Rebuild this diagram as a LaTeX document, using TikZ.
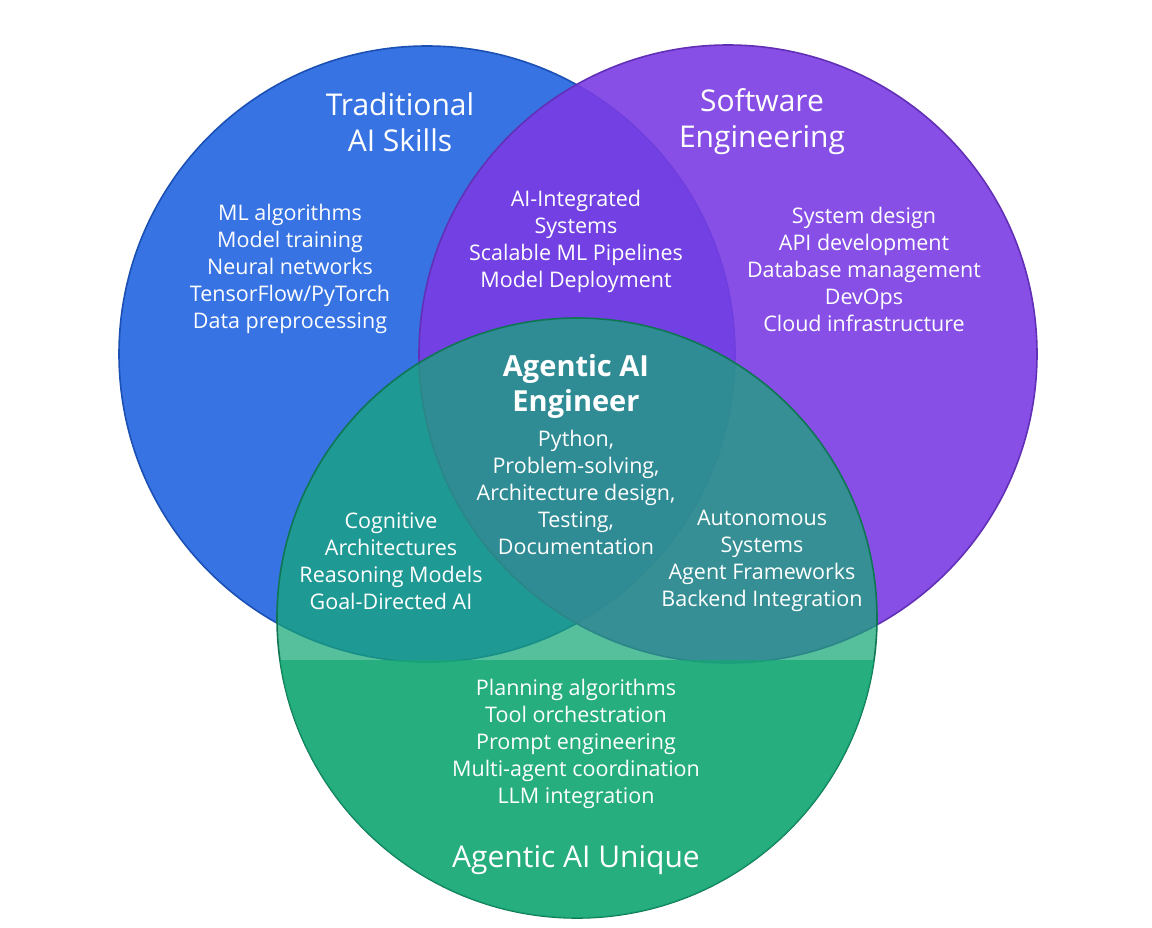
\documentclass[tikz,border=0pt]{standalone}
\usepackage{fontspec}
\setmainfont{Open Sans}
\begin{document}
\begin{tikzpicture}[x=1pt,y=-1pt,
  circ/.style={fill opacity=0.9,draw opacity=1,line width=1.6pt},
  item/.style={text=white,align=center,font=\fontsize{21.5}{27}\selectfont},
  ttl/.style={text=white,align=center,font=\fontsize{30}{36}\selectfont},
  ctr/.style={text=white,align=center,font=\bfseries\fontsize{29}{35}\selectfont}]
\definecolor{cblue}{RGB}{34,100,225}
\definecolor{cpurple}{RGB}{122,60,228}
\definecolor{cgreen}{RGB}{22,168,118}
\useasboundingbox (0,0) rectangle (1152,928);
\fill[white] (0,0) rectangle (1152,928);
\fill[cblue,circ,draw=cblue!80!black] (427,354) circle (308) coordinate (blue);
\fill[cpurple,circ,draw=cpurple!80!black] (728,354) circle (309) coordinate (purple);
\fill[cgreen,fill opacity=0.72,draw opacity=1,line width=1.6pt,draw=cgreen!70!black] (577,618) circle (300) coordinate (green);
\begin{scope}
\clip (577,618) circle (300);
\fill[cgreen,opacity=0.75] (0,660) rectangle (1152,928);
\end{scope}
\begin{scope}
\clip (427,354) circle (308);
\clip (577,618) circle (300);
\fill[black,opacity=0.0] (0,0) rectangle (1152,928);
\end{scope}
\node[ttl] (t1) at (400,122) {Traditional\\AI Skills};
\node[ttl] (t2) at (762,122) {Software\\Engineering};
\node[ttl] (t3) at (576,860) {Agentic AI Unique};
\node[item] (l1) at (290,269) {ML algorithms\\Model training\\Neural networks\\TensorFlow/PyTorch\\Data preprocessing};
\node[item] (l2) at (864,269) {System design\\API development\\Database management\\DevOps\\Cloud infrastructure};
\node[item] (l3) at (576,241) {AI-Integrated\\Systems\\Scalable ML Pipelines\\Model Deployment};
\node[ctr] (c) at (576,386) {Agentic AI\\Engineer};
\node[item] (l4) at (576,492) {Python,\\Problem-solving,\\Architecture design,\\Testing,\\Documentation};
\node[item] (l5) at (391,561) {Cognitive\\Architectures\\Reasoning Models\\Goal-Directed AI};
\node[item] (l6) at (762,561) {Autonomous\\Systems\\Agent Frameworks\\Backend Integration};
\node[item] (l7) at (576,744) {Planning algorithms\\Tool orchestration\\Prompt engineering\\Multi-agent coordination\\LLM integration};
\end{tikzpicture}
\end{document}
